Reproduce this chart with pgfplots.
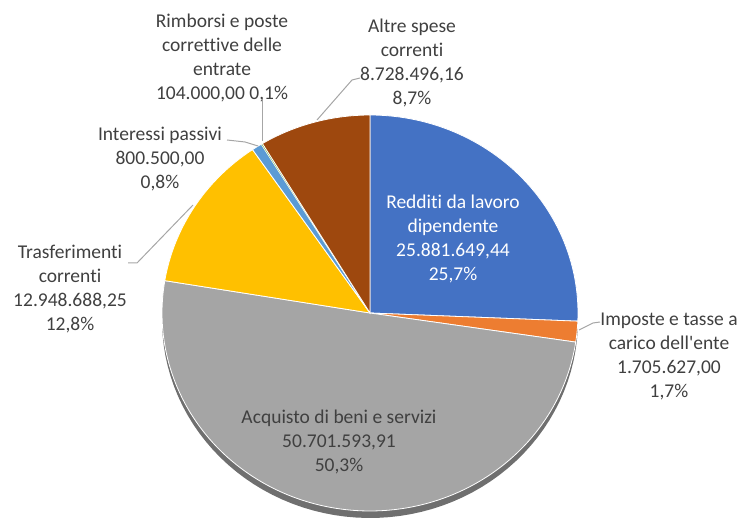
\documentclass[border=0pt]{standalone}
\usepackage{pgfplots}
\pgfplotsset{compat=1.18}
\usepackage{fontspec}
\setmainfont{Carlito}
\newfontfamily\labfont{Carlito}[Ligatures=NoCommon]
\definecolor{cblue}{HTML}{4472C4}
\definecolor{corange}{HTML}{ED7D31}
\definecolor{cgray}{HTML}{A5A5A5}
\definecolor{cgold}{HTML}{FFC000}
\definecolor{clblue}{HTML}{5B9BD5}
\definecolor{cgreen}{HTML}{70AD47}
\definecolor{cbrown}{HTML}{9E480E}
\definecolor{ctext}{HTML}{404040}
\definecolor{cline}{HTML}{A6A6A6}
\definecolor{crim}{HTML}{6F6F6F}
% values (in euro): 25881649.44, 1705627.00, 50701593.91, 12948688.25, 800500.00, 104000.00, 8728496.16
% written in millions for the angle computation
\def\vA{25.88164944}
\def\vB{1.705627}
\def\vC{50.70159391}
\def\vD{12.94868825}
\def\vE{0.8005}
\def\vF{0.104}
\def\vG{8.72849616}
\pgfmathsetmacro{\S}{\vA+\vB+\vC+\vD+\vE+\vF+\vG}
\pgfmathsetmacro{\aA}{90}
\pgfmathsetmacro{\aB}{\aA-360*(\vA/\S)}
\pgfmathsetmacro{\aC}{\aB-360*(\vB/\S)}
\pgfmathsetmacro{\aD}{\aC-360*(\vC/\S)}
\pgfmathsetmacro{\aE}{\aD-360*(\vD/\S)}
\pgfmathsetmacro{\aF}{\aE-360*(\vE/\S)}
\pgfmathsetmacro{\aG}{\aF-360*(\vF/\S)}
\pgfmathsetmacro{\aH}{\aG-360*(\vG/\S)}
\def\cx{370}
\def\cy{313}
\def\rx{208}
\def\ry{198}
\begin{document}
\begin{tikzpicture}
\begin{axis}[
  scale only axis, width=742pt, height=526pt,
  xmin=0, xmax=742, ymin=0, ymax=526, y dir=reverse,
  hide axis, clip=false,
  every axis plot/.append style={no markers},
]
\addplot[draw=none] coordinates {(0,0) (742,526)};
% 3D rim
\addplot[fill=crim, draw=none, domain=0:360, samples=120, variable=\t]
  ({\cx+\rx*cos(\t)}, {\cy+7-\ry*sin(\t)}) -- cycle;
% slices
\addplot[fill=cblue, draw=white, line width=0.8pt, domain=\aB:\aA, samples=60, variable=\t]
  ({\cx+\rx*cos(\t)}, {\cy-\ry*sin(\t)}) -- (axis cs:\cx,\cy) -- cycle;
\addplot[fill=corange, draw=white, line width=0.8pt, domain=\aC:\aB, samples=10, variable=\t]
  ({\cx+\rx*cos(\t)}, {\cy-\ry*sin(\t)}) -- (axis cs:\cx,\cy) -- cycle;
\addplot[fill=cgray, draw=white, line width=0.8pt, domain=\aD:\aC, samples=120, variable=\t]
  ({\cx+\rx*cos(\t)}, {\cy-\ry*sin(\t)}) -- (axis cs:\cx,\cy) -- cycle;
\addplot[fill=cgold, draw=white, line width=0.8pt, domain=\aE:\aD, samples=40, variable=\t]
  ({\cx+\rx*cos(\t)}, {\cy-\ry*sin(\t)}) -- (axis cs:\cx,\cy) -- cycle;
\addplot[fill=clblue, draw=white, line width=0.8pt, domain=\aF:\aE, samples=5, variable=\t]
  ({\cx+\rx*cos(\t)}, {\cy-\ry*sin(\t)}) -- (axis cs:\cx,\cy) -- cycle;
\addplot[fill=cgreen, draw=white, line width=0.3pt, domain=\aG:\aF, samples=3, variable=\t]
  ({\cx+\rx*cos(\t)}, {\cy-\ry*sin(\t)}) -- (axis cs:\cx,\cy) -- cycle;
\addplot[fill=cbrown, draw=white, line width=0.8pt, domain=\aH:\aG, samples=30, variable=\t]
  ({\cx+\rx*cos(\t)}, {\cy-\ry*sin(\t)}) -- (axis cs:\cx,\cy) -- cycle;
% leader lines
\addplot[cline, line width=1pt] coordinates {(262,100) (262,141)};
\addplot[cline, line width=1pt] coordinates {(227,140) (245,142) (258,146)};
\addplot[cline, line width=1pt] coordinates {(128,263) (137,263) (193,205)};
\addplot[cline, line width=1pt] coordinates {(360,78) (352,80) (317,120)};
\addplot[cline, line width=1pt] coordinates {(600,322) (593,323) (579,330)};
% labels
\tikzset{lab/.style={align=center, text=ctext, inner sep=0pt, font=\labfont\fontsize{19.5}{24}\selectfont}}
\node[lab] at (axis cs:222,58) {Rimborsi e poste\\correttive delle\\entrate\\104.000,00 0,1\%};
\node[lab] at (axis cs:412,63) {Altre spese\\correnti\\8.728.496,16\\8,7\%};
\node[lab] at (axis cs:160,159) {Interessi passivi\\800.500,00\\0,8\%};
\node[lab] at (axis cs:70,289) {Trasferimenti\\correnti\\12.948.688,25\\12,8\%};
\node[lab, text=white] at (axis cs:453,238.5) {Redditi da lavoro\\dipendente\\25.881.649,44\\25,7\%};
\node[lab] at (axis cs:669,356) {Imposte e tasse a\\carico dell'ente\\1.705.627,00\\1,7\%};
\node[lab] at (axis cs:339,442) {Acquisto di beni e servizi\\50.701.593,91\\50,3\%};
\end{axis}
\end{tikzpicture}
\end{document}
